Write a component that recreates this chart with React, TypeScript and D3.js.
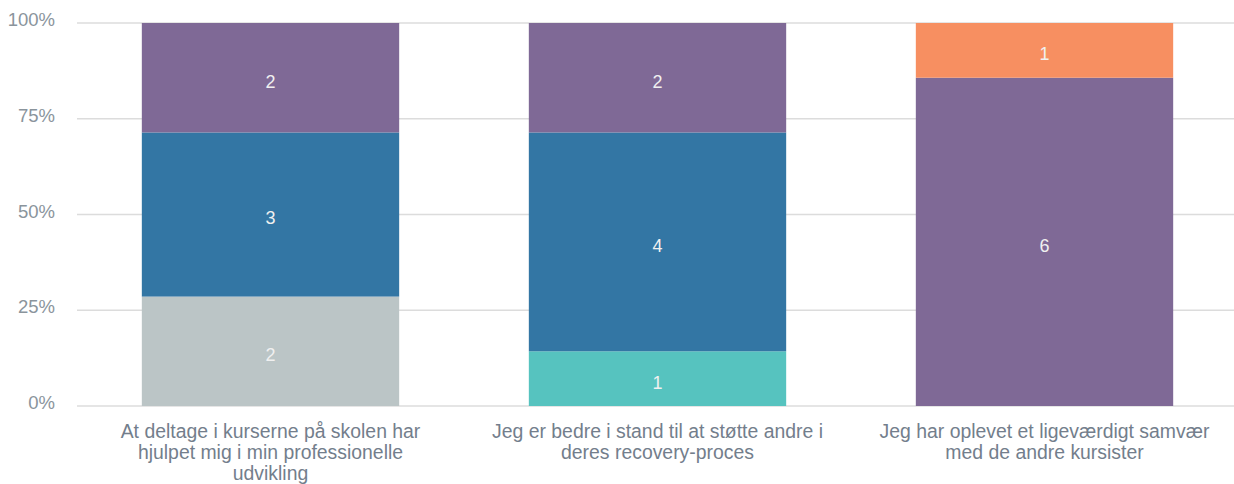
import React from 'react';
import * as d3 from 'd3';

const categories = [
  ['At deltage i kurserne på skolen har', 'hjulpet mig i min professionelle', 'udvikling'],
  ['Jeg er bedre i stand til at støtte andre i', 'deres recovery-proces'],
  ['Jeg har oplevet et ligeværdigt samvær', 'med de andre kursister'],
];
const seriesKeys = ['s1', 's2', 's3', 's4', 's5'];
const seriesColors = ['#bbc5c6', '#56c3bf', '#3376a4', '#7f6996', '#f78f61'];
const values = [
  [2, 0, 3, 2, 0],
  [0, 1, 4, 2, 0],
  [0, 0, 0, 6, 1],
];
const yTicks = [0, 0.25, 0.5, 0.75, 1];

const W = 1234;
const H = 484;
const left = 77;
const right = 1238;
const top = 23;
const bottom = 406;

const App: React.FC = () => {
  const x = d3
    .scaleBand<number>()
    .domain(categories.map((_, i) => i))
    .range([left, right])
    .paddingInner(0.335)
    .paddingOuter(0.1675);
  const y = d3.scaleLinear().domain([0, 1]).range([bottom, top]);

  const rows = values.map((v) => {
    const total = d3.sum(v);
    const o: Record<string, number> = {};
    seriesKeys.forEach((k, i) => (o[k] = v[i] / total));
    return o;
  });
  const stacked = d3.stack<Record<string, number>>().keys(seriesKeys)(rows);

  const font = '"Liberation Sans", Arial, sans-serif';

  return (
    <svg
      width={W}
      height={H}
      style={{ position: 'absolute', left: 0, top: 0, background: '#fff' }}
      fontFamily={font}
    >
      {yTicks.map((t) => (
        <g key={t}>
          <line x1={left} x2={W} y1={y(t)} y2={y(t)} stroke="#dcdcdc" strokeWidth={1.5} />
          <text
            x={55}
            y={y(t)}
            dy="0.17em"
            textAnchor="end"
            fontSize={18.5}
            fill="#8a949c"
          >
            {d3.format('.0%')(t)}
          </text>
        </g>
      ))}
      {stacked.map((layer, si) =>
        layer.map((d, ci) => {
          const v = values[ci][si];
          if (!v) return null;
          const y0 = y(d[0]);
          const y1 = y(d[1]);
          const bx = x(ci) || 0;
          return (
            <g key={`${si}-${ci}`}>
              <rect
                x={bx}
                y={y1}
                width={x.bandwidth()}
                height={y0 - y1}
                fill={seriesColors[si]}
              />
              <text
                x={bx + x.bandwidth() / 2}
                y={(y0 + y1) / 2}
                dy="0.55em"
                textAnchor="middle"
                fontSize={18}
                fill="#f0f0f0"
              >
                {v}
              </text>
            </g>
          );
        }),
      )}
      {categories.map((lines, ci) => (
        <text
          key={ci}
          x={(x(ci) || 0) + x.bandwidth() / 2}
          textAnchor="middle"
          fontSize={19.4}
          fill="#737e8c"
        >
          {lines.map((l, li) => (
            <tspan key={li} x={(x(ci) || 0) + x.bandwidth() / 2} y={438 + li * 21}>
              {l}
            </tspan>
          ))}
        </text>
      ))}
    </svg>
  );
};

export default App;
